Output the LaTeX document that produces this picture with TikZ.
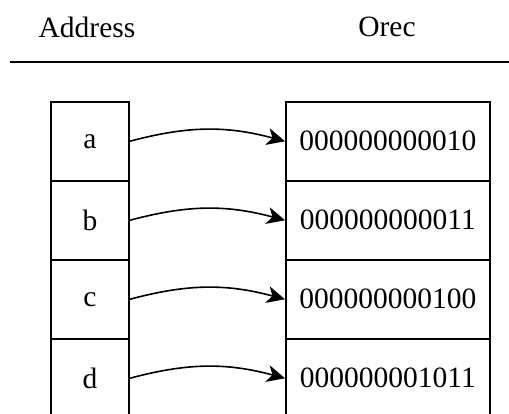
\documentclass[tikz,border=0pt]{standalone}
\usepackage{fontspec}
\setmainfont{Liberation Serif}
\usetikzlibrary{arrows.meta}
\begin{document}
\begin{tikzpicture}[x=1pt,y=-1pt,
 cell/.style={draw, line width=1.8pt, inner sep=0pt, minimum height=78.75pt, anchor=north west, font=\fontsize{29.5}{34}\selectfont},
 keycell/.style={cell, minimum width=78pt},
 valcell/.style={cell, minimum width=204pt},
 link/.style={line width=1.6pt, -{Stealth[length=18pt,width=17pt,inset=5pt]}},
 header/.style={font=\fontsize{29.5}{34}\selectfont}]
\useasboundingbox (0,0) rectangle (509,413);
\clip (0,0) rectangle (509,413);
\node[header] (hA) at (87,27) {Address};
\node[header] (hO) at (387,27) {Orec};
\coordinate (rl) at (10,62);
\coordinate (rr) at (509,62);
\draw[line width=1.8pt] (rl) -- (rr);
\node[keycell] (ka) at (50,101) {a};
\node[keycell] (kb) at (50,180) {b};
\node[keycell] (kc) at (50,259) {c};
\node[keycell] (kd) at (50,338) {d};
\node[valcell] (va) at (285,101) {000000000010};
\node[valcell] (vb) at (285,180) {000000000011};
\node[valcell] (vc) at (285,259) {000000000100};
\node[valcell] (vd) at (285,338) {000000001011};
\draw[link] (ka.east) to[bend left=15] (va.west);
\draw[link] (kb.east) to[bend left=15] (vb.west);
\draw[link] (kc.east) to[bend left=15] (vc.west);
\draw[link] (kd.east) to[bend left=15] (vd.west);
\end{tikzpicture}
\end{document}
